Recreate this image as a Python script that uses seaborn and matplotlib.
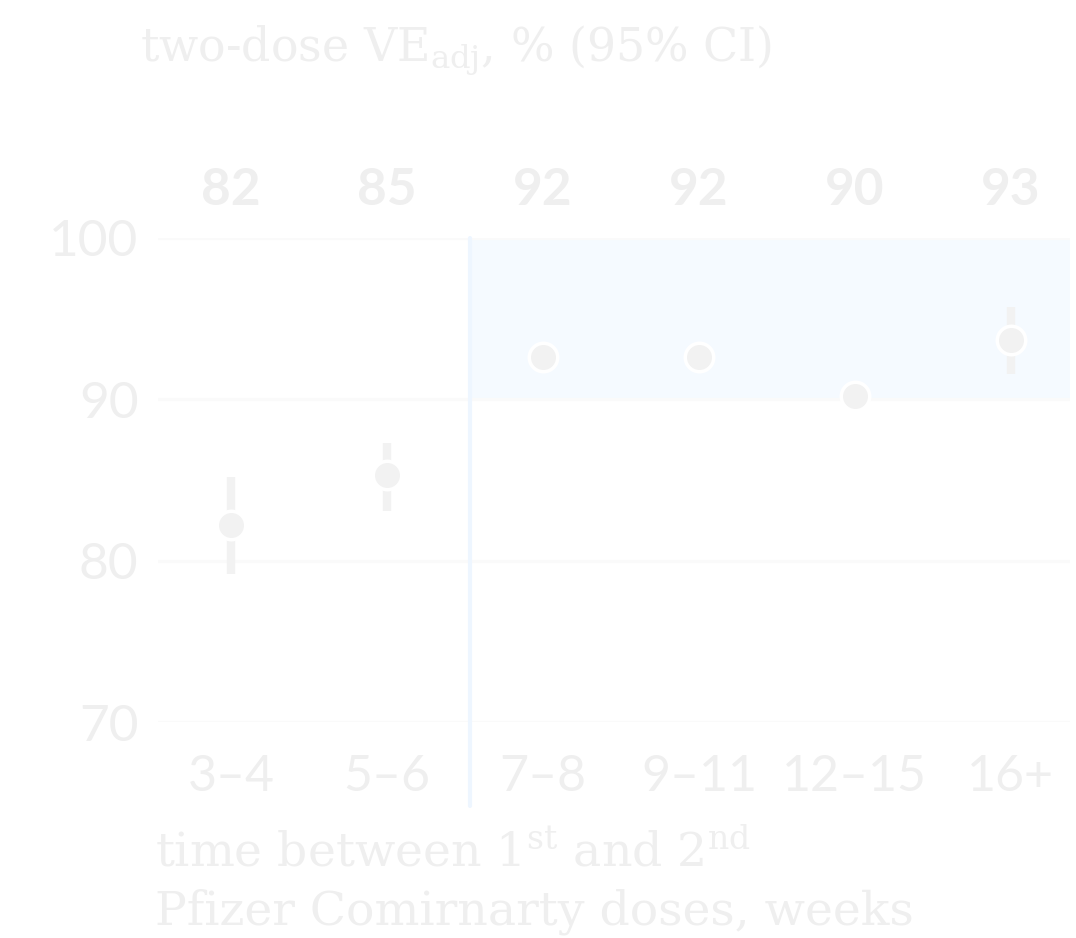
# VE by dose interval chart (light-on-white styling)
import numpy as np
import pandas as pd
import matplotlib.pyplot as plt
import seaborn as sns

# Data
intervals = ["3–4", "5–6", "7–8", "9–11", "12–15", "16+"]
ve = [82.2, 85.3, 92.6, 92.6, 90.2, 93.7]
ve_lo = [79.2, 83.1, 92.0, 92.0, 89.6, 91.6]
ve_hi = [85.2, 87.3, 93.2, 93.2, 90.8, 95.7]
ve_labels = ["82", "85", "92", "92", "90", "93"]
yticks = [70, 80, 90, 100]

df = pd.DataFrame({"interval": intervals, "ve": ve, "lo": ve_lo, "hi": ve_hi})
df["pos"] = np.arange(len(df))

# Colours
TEXT = "#efefef"
DOT = "#f2f2f2"
SHADE = "#f5faff"
DIVIDER = "#eef6ff"
GRID = "#fafafa"

sns.set_theme(style="white")
plt.rcParams["font.family"] = ["Lato", "DejaVu Sans"]
plt.rcParams["mathtext.fontset"] = "dejavuserif"

fig = plt.figure(figsize=(10.76, 9.38), dpi=100)
ax = fig.add_axes([158 / 1076, 1 - 722 / 938, (1070 - 158) / 1076, (722 - 238) / 938])

ax.set_xlim(-0.47, 5.38)
ax.set_ylim(70, 100)

# Shaded "target" region and the divider
ax.fill_between([1.53, 5.38], 90, 100, color=SHADE, lw=0, zorder=0)
ax.axvline(1.53, ymin=-0.174, ymax=1, color=DIVIDER, lw=3, clip_on=False, zorder=1)

for y in yticks:
    ax.axhline(y, color=GRID, lw=2.2, zorder=0.5)

# CI bars
ax.vlines(df["pos"], df["lo"], df["hi"], color=DOT, lw=6, zorder=2)

# Points
sns.scatterplot(data=df, x="pos", y="ve", s=420, color=DOT, edgecolor="white",
                linewidth=2.5, zorder=3, ax=ax, legend=False, clip_on=False)

# Value labels above the plot
for i, lab in enumerate(ve_labels):
    ax.text(i, 1.099, lab, transform=ax.get_xaxis_transform(), ha="center",
            va="center", fontsize=37, fontweight="bold", color=TEXT)

ax.set_xticks(df["pos"])
ax.set_xticklabels(intervals)
ax.set_yticks(yticks)
ax.tick_params(axis="x", length=0, pad=23, labelsize=36, labelcolor=TEXT)
ax.tick_params(axis="y", length=0, pad=14, labelsize=37, labelcolor=TEXT)
ax.set_xlabel("")
ax.set_ylabel("")
sns.despine(ax=ax, left=True, bottom=True)

# Title and axis caption
fig.text(140 / 1076, 1 - 50 / 938, r"two-dose VE$_{\mathrm{adj}}$, % (95% CI)",
         family="DejaVu Serif", fontsize=33, color=TEXT, va="center", ha="left")
fig.text(155 / 1076, 1 - 852 / 938, r"time between 1$^{\mathrm{st}}$ and 2$^{\mathrm{nd}}$",
         family="DejaVu Serif", fontsize=34, color=TEXT, va="center", ha="left")
fig.text(155 / 1076, 1 - 912 / 938, "Pfizer Comirnarty doses, weeks",
         family="DejaVu Serif", fontsize=34, color=TEXT, va="center", ha="left")

fig.savefig("out.png", dpi=100, facecolor="white")
